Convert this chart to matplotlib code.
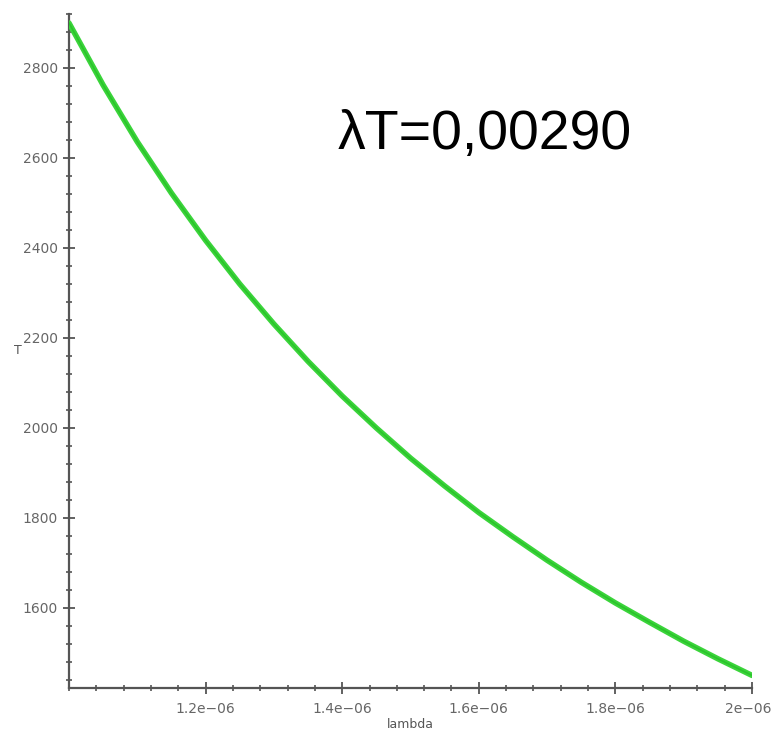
import matplotlib
matplotlib.use("Agg")
import matplotlib.pyplot as plt
import matplotlib.transforms as mtransforms
from matplotlib.ticker import MultipleLocator, FixedLocator, FixedFormatter

# Data (T versus lambda)
lam = [1.00e-6, 1.05e-6, 1.10e-6, 1.15e-6, 1.20e-6, 1.25e-6, 1.30e-6, 1.35e-6,
       1.40e-6, 1.45e-6, 1.50e-6, 1.55e-6, 1.60e-6, 1.65e-6, 1.70e-6, 1.75e-6,
       1.80e-6, 1.85e-6, 1.90e-6, 1.95e-6, 2.00e-6]
T = [2900, 2762, 2636, 2522, 2417, 2320, 2231, 2148,
     2071, 2000, 1933, 1871, 1812, 1758, 1706, 1657,
     1611, 1568, 1526, 1487, 1450]
x_ticks = [1.2e-6, 1.4e-6, 1.6e-6, 1.8e-6, 2.0e-6]
x_tick_labels = ["1.2e\u221206", "1.4e\u221206", "1.6e\u221206", "1.8e\u221206", "2e\u221206"]
y_ticks = [1600, 1800, 2000, 2200, 2400, 2600, 2800]

fig = plt.figure(figsize=(7.74, 7.36), dpi=100)
ax = fig.add_axes([0.0891, 0.0652, 0.9716 - 0.0891, 0.981 - 0.0652])

ax.plot(lam, T, color="#3ad43a", lw=4, solid_capstyle="round",
        solid_joinstyle="round", zorder=3)
ax.plot(lam, T, color="#22b822", lw=1.2, alpha=0.6, solid_joinstyle="round", zorder=4)

ax.set_xlim(1.0e-6, 2.0e-6)
ax.set_ylim(1422, 2920)

ax.xaxis.set_major_locator(FixedLocator(x_ticks))
ax.xaxis.set_major_formatter(FixedFormatter(x_tick_labels))
ax.xaxis.set_minor_locator(MultipleLocator(0.04e-6))
ax.yaxis.set_major_locator(FixedLocator(y_ticks))
ax.yaxis.set_minor_locator(MultipleLocator(40))

for s in ["top", "right"]:
    ax.spines[s].set_visible(False)
for s in ["left", "bottom"]:
    ax.spines[s].set_color("#555555")
    ax.spines[s].set_linewidth(1.6)

ax.tick_params(which="major", direction="inout", length=8, width=1.3, color="#555555",
               labelsize=10, labelcolor="#666666")
ax.tick_params(which="minor", direction="inout", length=5, width=1.2, color="#555555")
ax.tick_params(axis="y", which="major", pad=4)
ax.tick_params(axis="x", which="major", pad=6)

# keep the last x tick label inside the figure
fig.canvas.draw()
last = ax.get_xticklabels()[-1]
last.set_transform(last.get_transform() +
                   mtransforms.ScaledTranslation(-4 / 100, 0, fig.dpi_scale_trans))

fig.text(410 / 774, 1 - 725 / 736, "lambda", ha="center", va="center",
         fontsize=9, color="#555555")
fig.text(18 / 774, 1 - 351 / 736, "T", ha="center", va="center", fontsize=9, color="#555555")

fig.text(338 / 774, 1 - 135 / 736, "\u03bbT=0,00290", ha="left", va="center",
         fontsize=40, color="black", family=["Liberation Sans", "DejaVu Sans"])

fig.savefig("out.png", dpi=100)
